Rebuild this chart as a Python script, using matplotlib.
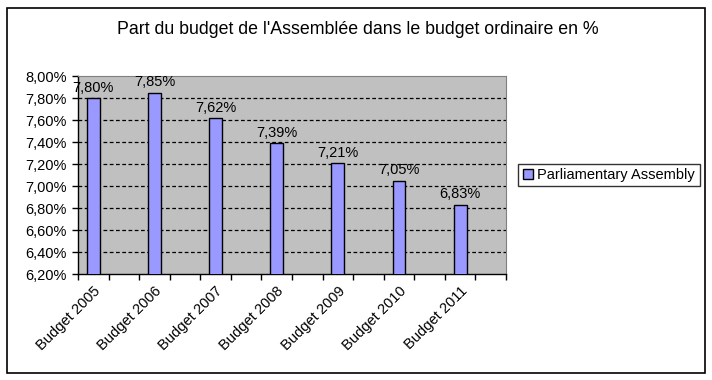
import matplotlib
matplotlib.use("Agg")
import matplotlib.pyplot as plt
from matplotlib.patches import Rectangle, Patch

categories = ["Budget 2005", "Budget 2006", "Budget 2007", "Budget 2008",
              "Budget 2009", "Budget 2010", "Budget 2011"]
values = [7.80, 7.85, 7.62, 7.39, 7.21, 7.05, 6.83]
series_name = "Parliamentary Assembly"
title = "Part du budget de l'Assemblée dans le budget ordinaire en %"
yticks = [6.2, 6.4, 6.6, 6.8, 7.0, 7.2, 7.4, 7.6, 7.8, 8.0]

plt.rcParams['font.family'] = ['Liberation Sans', 'DejaVu Sans']

W, H = 712, 380
fig = plt.figure(figsize=(W / 100, H / 100), dpi=100)

# outer border
fig.add_artist(Rectangle((7 / W, 1 - 373 / H), (705 - 7) / W, (373 - 8) / H,
                         transform=fig.transFigure, fill=False,
                         edgecolor='black', linewidth=1.2))

left, right, top, bottom = 78, 506, 76, 274
ax = fig.add_axes([left / W, 1 - bottom / H, (right - left) / W, (bottom - top) / H])
ax.set_facecolor('#C0C0C0')

pos = [2 * i for i in range(len(values))]
bars = ax.bar(pos, values, width=0.42, color='#9999FF', edgecolor='black',
              linewidth=1.0, zorder=3)
ax.set_xlim(-0.5, 13.5)
ax.set_ylim(6.2, 8.0)
ax.set_yticks(yticks)
ax.set_yticklabels([f"{v:.2f}%".replace('.', ',') for v in yticks], fontsize=10.5)
for y in yticks[1:-1]:
    ax.axhline(y, color='black', linestyle=(0, (3, 2)), linewidth=0.9, zorder=1)

ax.set_xticks([i - 0.5 for i in range(15)])
ax.set_xticklabels([])
ax.set_xticks(pos, minor=True)
ax.set_xticklabels(categories, minor=True, rotation=45, ha='right',
                   rotation_mode='anchor', fontsize=10.5)
ax.tick_params(axis='x', which='minor', length=0, pad=7)
ax.tick_params(axis='x', which='major', length=4, direction='out', width=1)
ax.tick_params(axis='y', length=4, direction='out', width=1, pad=4)

for s in ['top', 'right']:
    ax.spines[s].set_color('#808080')
    ax.spines[s].set_linewidth(0.8)
for s in ['left', 'bottom']:
    ax.spines[s].set_color('black')
    ax.spines[s].set_linewidth(1.0)

for p, v in zip(pos, values):
    ax.text(p, v + 0.03, f"{v:.2f}%".replace('.', ','), ha='center', va='bottom',
            fontsize=10.5, zorder=4)

fig.text(358 / W, 1 - 30 / H, title, ha='center', va='center', fontsize=12.8)

leg = fig.legend(handles=[Patch(facecolor='#9999FF', edgecolor='black', label=series_name)],
                 loc='center', bbox_to_anchor=(609 / W, 1 - 175 / H), fontsize=10.5,
                 frameon=True, fancybox=False, edgecolor='black', handlelength=0.7,
                 handleheight=0.7, handletextpad=0.3, borderpad=0.3, borderaxespad=0)
leg.get_frame().set_linewidth(1.0)

fig.savefig("out.png", dpi=100)
